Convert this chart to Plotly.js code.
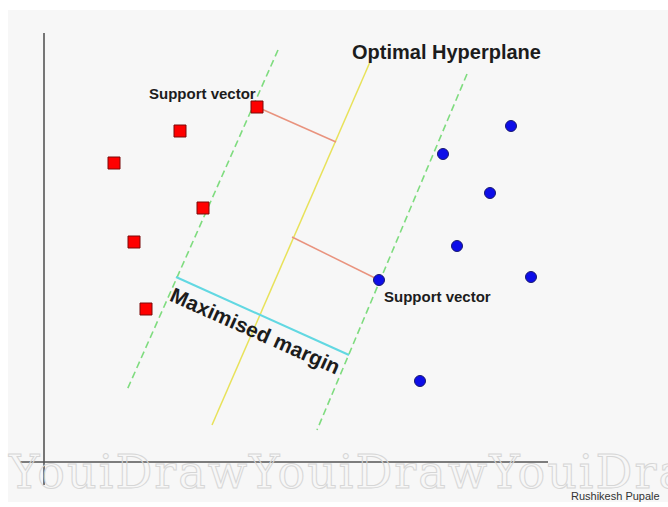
<!DOCTYPE html>
<html>
<head>
<meta charset="utf-8">
<script src="https://cdn.plot.ly/plotly-3.0.1.min.js"></script>
<style>
  html, body { margin: 0; padding: 0; background: #ffffff; }
  #chart { width: 668px; height: 507px; }
  g.annotation[data-index="0"] text {
    fill: none !important;
    stroke: #d6d6d6 !important;
    stroke-width: 1px !important;
    letter-spacing: 2px;
  }
</style>
</head>
<body>
<div id="chart"></div>
<script>
// Class A (red squares) and class B (blue circles)
const classAX = [213, 136, 70, 159, 90, 102];
const classAY = [355, 331, 299, 254, 220, 153];
const classBX = [467, 399, 446, 413, 335, 487, 376];
const classBY = [336, 308, 269, 216, 182, 185, 81];

// Optimal hyperplane and the two margin boundaries
const hyperplaneX = [326, 168];
const hyperplaneY = [400, 37];
const marginLeftX = [234, 83];
const marginLeftY = [412, 72];
const marginRightX = [423, 273];
const marginRightY = [388, 32];

// Distances from support vectors to the hyperplane
const supportLinkAX = [213, 292];
const supportLinkAY = [355, 320];
const supportLinkBX = [248, 335];
const supportLinkBY = [225, 182];

// Maximised margin width segment
const marginWidthX = [132, 305];
const marginWidthY = [185, 107];

// Hand-drawn axes
const axisVerticalX = [0, 0];
const axisVerticalY = [429, -23];
const axisHorizontalX = [-24, 504];
const axisHorizontalY = [0, 0];

// Texts
const titleText = 'Optimal Hyperplane';
const supportText = 'Support vector';
const marginText = 'Maximised margin';
const authorText = 'Rushikesh Pupale';
const watermarkText = 'YouiDrawYouiDrawYouiDra';

function line(x, y, color, width, dash) {
  return {
    x: x, y: y, type: 'scatter', mode: 'lines',
    line: { color: color, width: width, dash: dash || 'solid' },
    hoverinfo: 'skip', showlegend: false
  };
}

const traces = [
  line(axisVerticalX, axisVerticalY, '#555555', 1.6),
  line(axisHorizontalX, axisHorizontalY, '#555555', 1.6),
  line(marginLeftX, marginLeftY, '#7fdc7f', 1.6, '7px,4px'),
  line(marginRightX, marginRightY, '#7fdc7f', 1.6, '7px,4px'),
  line(hyperplaneX, hyperplaneY, '#e8e25a', 1.5),
  line(supportLinkAX, supportLinkAY, '#e9937e', 1.5),
  line(supportLinkBX, supportLinkBY, '#e9937e', 1.5),
  line(marginWidthX, marginWidthY, '#62d8e2', 2),
  {
    x: classAX, y: classAY, type: 'scatter', mode: 'markers',
    marker: { symbol: 'square', size: 12, color: '#ff0000', line: { color: '#7a0a0a', width: 1 } },
    hoverinfo: 'skip', showlegend: false
  },
  {
    x: classBX, y: classBY, type: 'scatter', mode: 'markers',
    marker: { symbol: 'circle', size: 11, color: '#0d0de8', line: { color: '#1a1a70', width: 1 } },
    hoverinfo: 'skip', showlegend: false
  }
];

const boldFont = (size) => ({ family: 'Liberation Sans, Arial, sans-serif', size: size, color: '#1c1c1c', weight: 700 });

const layout = {
  width: 668, height: 507,
  margin: { l: 8, r: 0, t: 10, b: 5, pad: 0 },
  paper_bgcolor: '#ffffff',
  plot_bgcolor: '#f7f7f7',
  showlegend: false,
  xaxis: { range: [-36, 624], showgrid: false, zeroline: false, showticklabels: false, ticks: '', showline: false, fixedrange: true },
  yaxis: { range: [-40, 452], showgrid: false, zeroline: false, showticklabels: false, ticks: '', showline: false, fixedrange: true },
  annotations: [
    { text: watermarkText, x: 0, y: -10, xref: 'paper', yref: 'y', xanchor: 'left', yanchor: 'middle', xshift: 21, showarrow: false,
      font: { family: 'DejaVu Serif, serif', size: 46, color: '#dddddd' } },
    { text: titleText, x: 402, y: 410, xref: 'x', yref: 'y', showarrow: false, font: boldFont(20) },
    { text: supportText, x: 158.5, y: 369, xref: 'x', yref: 'y', showarrow: false, font: boldFont(15) },
    { text: supportText, x: 393.5, y: 166, xref: 'x', yref: 'y', showarrow: false, font: boldFont(15) },
    { text: marginText, x: 211, y: 132, xref: 'x', yref: 'y', showarrow: false, textangle: 24, font: boldFont(21) },
    { text: authorText, x: 571.5, y: -34, xref: 'x', yref: 'y', showarrow: false,
      font: { family: 'Liberation Sans, Arial, sans-serif', size: 11, color: '#333333' } }
  ]
};

Plotly.newPlot('chart', traces, layout, { staticPlot: true, displayModeBar: false });
</script>
</body>
</html>
